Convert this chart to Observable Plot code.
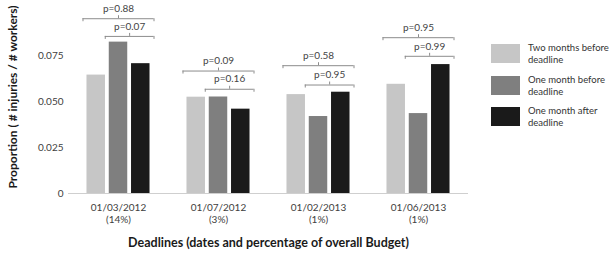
<!DOCTYPE html>
<html><head><meta charset="utf-8">
<script src="https://cdn.jsdelivr.net/npm/d3@7"></script>
<script src="https://cdn.jsdelivr.net/npm/@observablehq/plot@0.6"></script>
<style>
body{margin:0;background:#fff;font-family:Lato,sans-serif}
#wrap{position:relative;width:612px;height:253px;overflow:hidden}
#legend{position:absolute;left:491px;top:42px;width:121px}
.item{display:flex;align-items:flex-start;height:31.5px}
.sw{width:29px;height:19px;margin-top:2px;flex:none}
.lab{margin-left:8px;font-size:9.5px;line-height:12.3px;color:#333;white-space:nowrap}
g[aria-label="y-axis label"], g[aria-label="fx-axis label"]{font-weight:bold;font-size:12px;fill:#1a1a1a}
g[aria-label="fx-axis label"]{font-size:12.5px}
</style>
</head><body>
<div id="wrap"><div id="chart"></div><div id="legend"></div></div>
<script>
const dates = ["01/03/2012", "01/07/2012", "01/02/2013", "01/06/2013"];
const budgetShare = ["(14%)", "(3%)", "(1%)", "(1%)"];
const periods = ["Two months before deadline", "One month before deadline", "One month after deadline"];
const twoMonthsBefore = [0.0643, 0.0523, 0.0537, 0.0593];
const oneMonthBefore = [0.0822, 0.0524, 0.0418, 0.0434];
const oneMonthAfter = [0.0705, 0.0458, 0.0550, 0.0700];
const colors = ["#c6c6c6", "#7f7f7f", "#1a1a1a"];
const yTicks = [0, 0.025, 0.05, 0.075];
const yTickLabels = ["0", "0.025", "0.050", "0.075"];
// outer bracket: two months before vs one month after; inner: one month before vs one month after
const outerP = ["p=0.88", "p=0.09", "p=0.58", "p=0.95"];
const outerY = [0.0949, 0.0665, 0.0694, 0.0846];
const innerP = ["p=0.07", "p=0.16", "p=0.95", "p=0.99"];
const innerY = [0.0853, 0.0566, 0.0589, 0.0745];

const series = [twoMonthsBefore, oneMonthBefore, oneMonthAfter];
const rows = dates.flatMap((d, i) => periods.map((p, j) => ({date: d, period: p, value: series[j][i]})));

const W = 485, H = 253, ML = 68, MR = 17, MT = 0, MB = 60;
const pIn = 0.17, pOut = 0.83;
const facetW = (W - ML - MR) / dates.length;
const step = facetW / (periods.length - pIn + 2 * pOut);
const bw = step * (1 - pIn);
const ext = 4, tick = 3, bracketColor = "#8c8c8c";

const sets = [
  {from: 0, to: 2, p: outerP, y: outerY},
  {from: 1, to: 2, p: innerP, y: innerY}
];
const bracketMarks = sets.flatMap(s => {
  const br = dates.map((d, i) => ({date: d, from: periods[s.from], to: periods[s.to], y: s.y[i], p: s.p[i]}));
  const midDx = -(s.to - s.from) * step / 2;
  return [
    Plot.ruleY(br, {fx: "date", x1: "from", x2: "to", y: "y", stroke: bracketColor, insetLeft: -ext, insetRight: -ext}),
    Plot.ruleX(br, {fx: "date", x: "from", y1: "y", y2: "y", dx: -bw / 2 - ext, insetBottom: -tick, stroke: bracketColor}),
    Plot.ruleX(br, {fx: "date", x: "to", y1: "y", y2: "y", dx: bw / 2 + ext, insetBottom: -tick, stroke: bracketColor}),
    Plot.ruleX(br, {fx: "date", x: "to", y1: "y", y2: "y", dx: midDx, insetTop: -tick, stroke: bracketColor}),
    Plot.text(br, {fx: "date", x: "to", y: "y", text: "p", dx: midDx, dy: -10, fontSize: 10, fill: "#444"})
  ];
});

const chart = Plot.plot({
  width: W, height: H,
  marginLeft: ML, marginRight: MR, marginTop: MT, marginBottom: MB,
  style: {fontFamily: "Lato, sans-serif", fontSize: "10px", color: "#404040", background: "#fff"},
  fx: {domain: dates, padding: 0},
  x: {domain: periods, paddingInner: pIn, paddingOuter: pOut, round: false, axis: null},
  y: {domain: [0, 0.1048]},
  color: {domain: periods, range: colors},
  marks: [
    Plot.axisY(yTicks, {tickSize: 0, tickPadding: 5, tickFormat: d => yTickLabels[yTicks.indexOf(d)],
      label: "Proportion ( # injuries / # workers)", labelAnchor: "center", labelOffset: 60, labelArrow: false}),
    Plot.axisFx({anchor: "bottom", tickSize: 0, tickPadding: 9, lineHeight: 1.2,
      tickFormat: d => d + "\n" + budgetShare[dates.indexOf(d)],
      label: "Deadlines (dates and percentage of overall Budget)", labelAnchor: "center", labelOffset: 53}),
    Plot.barY(rows, {fx: "date", x: "period", y: "value", fill: "period"}),
    Plot.ruleY([0], {stroke: "#cfcfcf"}),
    ...bracketMarks
  ]
});
document.getElementById("chart").appendChild(chart);

const legend = document.getElementById("legend");
periods.forEach((p, j) => {
  const words = p.split(" ");
  const item = document.createElement("div");
  item.className = "item";
  item.innerHTML = `<div class="sw" style="background:${colors[j]}"></div><div class="lab">${words.slice(0, -1).join(" ")}<br>${words[words.length - 1]}</div>`;
  legend.appendChild(item);
});
</script>
</body></html>
